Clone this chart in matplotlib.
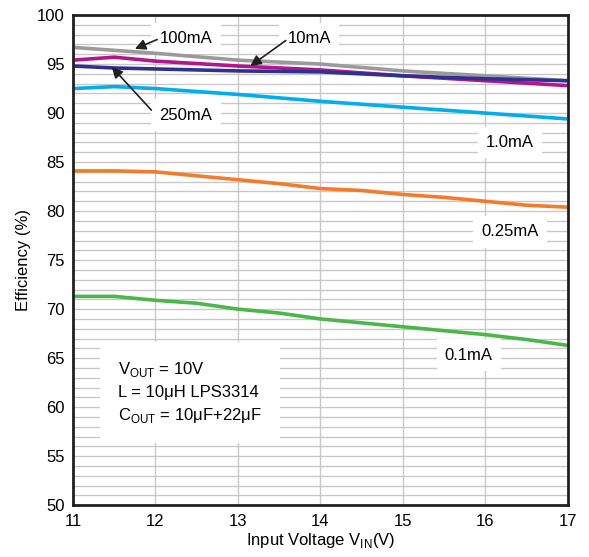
import numpy as np
import matplotlib.pyplot as plt

plt.rcParams['font.family'] = ['Liberation Sans', 'DejaVu Sans']

# efficiency vs input voltage, one curve per load current
vin = [11, 11.5, 12, 13, 14, 15, 16, 17]
eff_100mA = [96.7, 96.4, 96.1, 95.4, 95.0, 94.3, 93.8, 93.3]
eff_10mA = [95.4, 95.7, 95.3, 94.8, 94.4, 93.8, 93.3, 92.8]
eff_250mA = [94.8, 94.6, 94.5, 94.3, 94.2, 93.8, 93.5, 93.3]
eff_1mA = [92.5, 92.7, 92.5, 91.9, 91.2, 90.6, 90.0, 89.4]

vin_fine = [11, 11.5, 12, 12.5, 13, 13.5, 14, 14.5, 15, 15.5, 16, 16.5, 17]
eff_025mA = [84.1, 84.1, 84.0, 83.6, 83.2, 82.8, 82.3, 82.1, 81.7, 81.4, 81.0, 80.6, 80.4]
eff_01mA = [71.3, 71.3, 70.9, 70.6, 70.0, 69.6, 69.0, 68.6, 68.2, 67.8, 67.4, 66.9, 66.3]

fig = plt.figure(figsize=(5.89, 5.57), dpi=100)
ax = fig.add_axes([0.124, 0.093, 0.84, 0.88])
ax.set_axisbelow(True)

ax.plot(vin, eff_100mA, color='#9a9a9a', lw=2.6, zorder=3)
ax.plot(vin, eff_10mA, color='#b3168c', lw=2.6, zorder=3)
ax.plot(vin, eff_250mA, color='#2e3192', lw=2.6, zorder=3)
ax.plot(vin, eff_1mA, color='#00aeef', lw=2.6, zorder=3)
ax.plot(vin_fine, eff_025mA, color='#f47b2a', lw=2.6, zorder=3)
ax.plot(vin_fine, eff_01mA, color='#4bb748', lw=2.6, zorder=3)

ax.set_xlim(11, 17)
ax.set_ylim(50, 100)
ax.set_xticks(range(11, 18))
ax.set_yticks(range(50, 101, 5))
ax.set_yticks(range(50, 101), minor=True)
ax.grid(True, which='both', color='#c8c8c8', lw=1.0)
ax.tick_params(which='both', length=0, labelsize=12, pad=6)
for s in ax.spines.values():
    s.set_linewidth(2.0)
    s.set_color('#231f20')
    s.set_zorder(6)

ax.set_xlabel(r'Input Voltage V$_{\mathregular{IN}}$(V)', fontsize=12, labelpad=2)
ax.set_ylabel('Efficiency (%)', fontsize=12, labelpad=4)

box = dict(facecolor='white', edgecolor='none', pad=6)
arrow = dict(arrowstyle='-|>', color='#231f20', lw=1.2, mutation_scale=16,
             shrinkA=0, shrinkB=0)

# label boxes sit under the curves, arrows on top of them
ax.text(12.05, 97.6, '100mA', fontsize=12, va='center', ha='left', bbox=box, zorder=2)
ax.text(13.6, 97.6, '10mA', fontsize=12, va='center', ha='left', bbox=box, zorder=2)
ax.text(12.05, 89.8, '250mA', fontsize=12, va='center', ha='left', bbox=box, zorder=2)
ax.annotate('', xy=(11.75, 96.55), xytext=(12.02, 97.5), arrowprops=arrow, zorder=4)
ax.annotate('', xy=(13.15, 94.8), xytext=(13.58, 97.4), arrowprops=arrow, zorder=4)
ax.annotate('', xy=(11.47, 94.7), xytext=(11.95, 90.3), arrowprops=arrow, zorder=4)

ax.text(16.3, 87.0, '1.0mA', fontsize=12, va='center', ha='center', bbox=box, zorder=2)
ax.text(16.3, 77.9, '0.25mA', fontsize=12, va='center', ha='center', bbox=box, zorder=2)
ax.text(15.8, 65.3, '0.1mA', fontsize=12, va='center', ha='center', bbox=box, zorder=2)

ax.text(11.55, 61.5,
        'V$_{\\mathregular{OUT}}$ = 10V\nL = 10μH LPS3314\nC$_{\\mathregular{OUT}}$ = 10μF+22μF',
        fontsize=12, va='center', ha='left', linespacing=1.45,
        bbox=dict(facecolor='white', edgecolor='none', pad=13), zorder=2)

fig.savefig('out.png', dpi=100)
